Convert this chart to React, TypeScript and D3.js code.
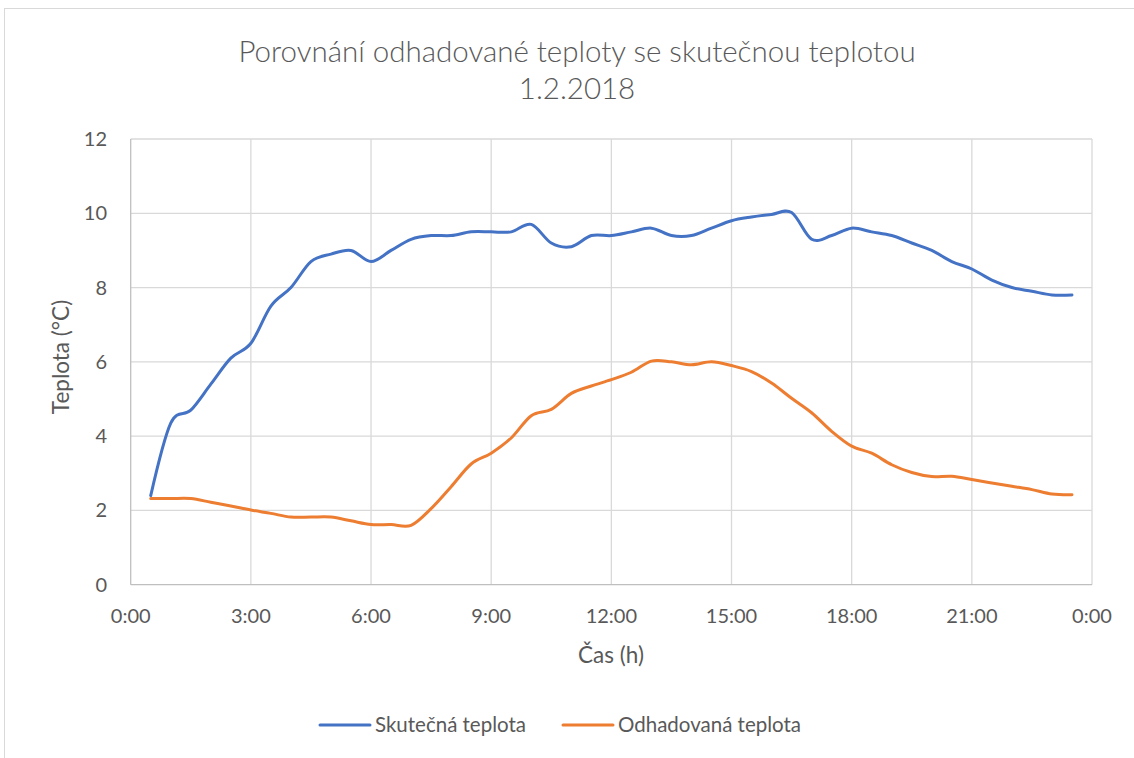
import React, { useEffect, useRef } from 'react';
import * as d3 from 'd3';

// časy měření (po půlhodinách)
const times = [
  '0:30', '1:00', '1:30', '2:00', '2:30', '3:00', '3:30', '4:00', '4:30', '5:00',
  '5:30', '6:00', '6:30', '7:00', '7:30', '8:00', '8:30', '9:00', '9:30', '10:00',
  '10:30', '11:00', '11:30', '12:00', '12:30', '13:00', '13:30', '14:00', '14:30', '15:00',
  '15:30', '16:00', '16:30', '17:00', '17:30', '18:00', '18:30', '19:00', '19:30', '20:00',
  '20:30', '21:00', '21:30', '22:00', '22:30', '23:00', '23:30'
];

const skutecna = [
  2.4, 4.35, 4.7, 5.4, 6.1, 6.5, 7.5, 8.0, 8.7, 8.9,
  9.0, 8.7, 9.0, 9.3, 9.4, 9.4, 9.5, 9.5, 9.5, 9.7,
  9.2, 9.1, 9.4, 9.4, 9.5, 9.6, 9.4, 9.4, 9.6, 9.8,
  9.9, 9.97, 10.02, 9.3, 9.4, 9.6, 9.5, 9.4, 9.2, 9.0,
  8.7, 8.5, 8.2, 8.0, 7.9, 7.8, 7.8
];

const odhadovana = [
  2.32, 2.32, 2.32, 2.22, 2.12, 2.01, 1.92, 1.82, 1.82, 1.82,
  1.72, 1.62, 1.62, 1.6, 2.05, 2.64, 3.25, 3.54, 3.95, 4.55,
  4.72, 5.15, 5.35, 5.52, 5.72, 6.02, 6.0, 5.92, 6.0, 5.9,
  5.74, 5.43, 5.02, 4.63, 4.13, 3.73, 3.54, 3.23, 3.02, 2.91,
  2.92, 2.83, 2.74, 2.65, 2.56, 2.44, 2.42
];

const xTicks = ['0:00', '3:00', '6:00', '9:00', '12:00', '15:00', '18:00', '21:00', '0:00'];
const yTicks = [0, 2, 4, 6, 8, 10, 12];

const seriesNames = ['Skutečná teplota', 'Odhadovaná teplota'];
const colors = ['#4472C4', '#ED7D31'];

const FONT = 'Lato, "Open Sans", sans-serif';
const TXT = '#595959';

const hours = (t: string) => {
  const [h, m] = t.split(':').map(Number);
  return h + m / 60;
};

const App = () => {
  const ref = useRef<SVGSVGElement>(null);

  useEffect(() => {
    const svg = d3.select(ref.current);
    svg.selectAll('*').remove();

    const x = d3.scaleLinear().domain([0, 24]).range([130.7, 1092]);
    const y = d3.scaleLinear().domain([0, 12]).range([584.7, 139]);

    // rámeček grafu
    svg.append('rect')
      .attr('x', 4.5).attr('y', 8.5)
      .attr('width', 1160).attr('height', 780)
      .attr('fill', '#fff').attr('stroke', '#d9d9d9');

    // titulek
    const title = svg.append('text')
      .attr('text-anchor', 'middle')
      .attr('font-family', FONT)
      .attr('font-size', 29.5)
      .attr('font-weight', 300)
      .attr('fill', TXT);
    title.append('tspan').attr('x', 577).attr('y', 62).text('Porovnání odhadované teploty se skutečnou teplotou');
    title.append('tspan').attr('x', 577).attr('y', 99).text('1.2.2018');

    // mřížka
    const g = svg.append('g');
    g.selectAll('.hg').data(yTicks.slice(1)).enter().append('line')
      .attr('x1', x(0)).attr('x2', x(24))
      .attr('y1', (d) => y(d)).attr('y2', (d) => y(d))
      .attr('stroke', '#d9d9d9').attr('stroke-width', 1.3);
    g.selectAll('.vg').data(xTicks.slice(1)).enter().append('line')
      .attr('x1', (d, i) => x((i + 1) * 3)).attr('x2', (d, i) => x((i + 1) * 3))
      .attr('y1', y(0)).attr('y2', y(12))
      .attr('stroke', '#d9d9d9').attr('stroke-width', 1.3);

    // osy
    g.append('line')
      .attr('x1', x(0)).attr('x2', x(24)).attr('y1', y(0)).attr('y2', y(0))
      .attr('stroke', '#bfbfbf').attr('stroke-width', 1.3);
    g.append('line')
      .attr('x1', x(0)).attr('x2', x(0)).attr('y1', y(0)).attr('y2', y(12))
      .attr('stroke', '#bfbfbf').attr('stroke-width', 1.3);

    g.selectAll('.yl').data(yTicks).enter().append('text')
      .attr('x', 107).attr('y', (d) => y(d))
      .attr('dy', '0.35em')
      .attr('text-anchor', 'end')
      .attr('font-family', FONT).attr('font-size', 20).attr('fill', TXT)
      .text((d) => d);

    g.selectAll('.xl').data(xTicks).enter().append('text')
      .attr('x', (d, i) => x(i * 3)).attr('y', 623)
      .attr('text-anchor', 'middle')
      .attr('font-family', FONT).attr('font-size', 20).attr('fill', TXT)
      .text((d) => d);

    g.append('text')
      .attr('x', 611).attr('y', 663)
      .attr('text-anchor', 'middle')
      .attr('font-family', FONT).attr('font-size', 22.5).attr('fill', TXT)
      .text('Čas (h)');

    g.append('text')
      .attr('transform', 'translate(69,357) rotate(-90)')
      .attr('text-anchor', 'middle')
      .attr('font-family', FONT).attr('font-size', 22.5).attr('fill', TXT)
      .text('Teplota (°C)');

    // křivky
    const line = d3.line<[number, number]>()
      .x((d) => x(d[0]))
      .y((d) => y(d[1]))
      .curve(d3.curveCardinal.tension(0));

    [skutecna, odhadovana].forEach((vals, k) => {
      const pts = times.map((t, i) => [hours(t), vals[i]] as [number, number]);
      g.append('path')
        .attr('d', line(pts))
        .attr('fill', 'none')
        .attr('stroke', colors[k])
        .attr('stroke-width', 3)
        .attr('stroke-linecap', 'round')
        .attr('stroke-linejoin', 'round');
    });

    // legenda
    const legX = [320, 563];
    const legend = svg.append('g').selectAll('g').data(seriesNames).enter().append('g')
      .attr('transform', (d, i) => 'translate(' + legX[i] + ',725)');
    legend.append('line')
      .attr('x1', 0).attr('x2', 50)
      .attr('stroke', (d, i) => colors[i])
      .attr('stroke-width', 3)
      .attr('stroke-linecap', 'round');
    legend.append('text')
      .attr('x', 55).attr('dy', '0.35em')
      .attr('font-family', FONT).attr('font-size', 20.5).attr('fill', TXT)
      .text((d) => d);
  }, []);

  return (
    <svg
      ref={ref}
      width={1134}
      height={758}
      style={{ position: 'absolute', left: 0, top: 0 }}
    />
  );
};

export default App;
